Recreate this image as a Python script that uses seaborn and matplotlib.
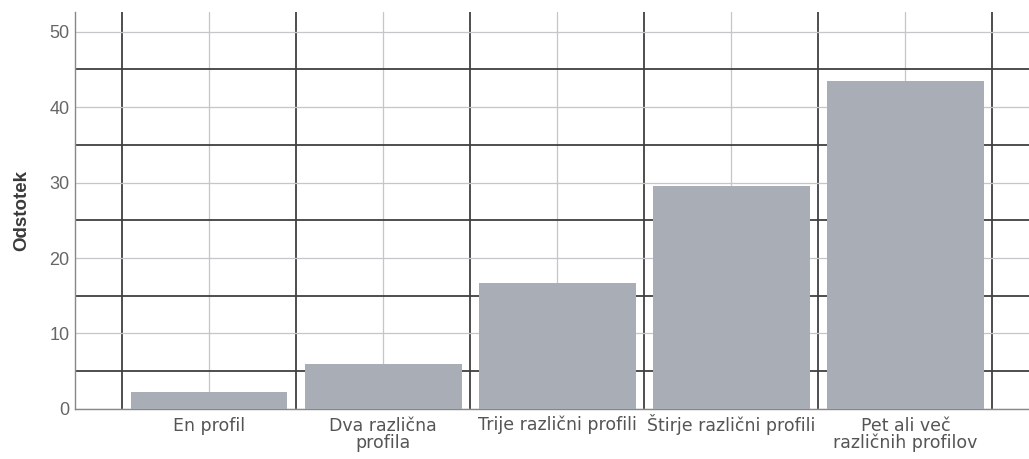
import matplotlib
matplotlib.use("Agg")
import matplotlib.pyplot as plt
import seaborn as sns
import pandas as pd
import numpy as np
from matplotlib.ticker import FixedLocator

categories = ["En profil", "Dva različna\nprofila", "Trije različni profili",
              "Štirje različni profili", "Pet ali več\nrazličnih profilov"]
values = [2.2, 5.9, 16.7, 29.5, 43.4]
y_ticks = [0, 10, 20, 30, 40, 50]

sns.set_theme(style="white")
plt.rcParams['font.family'] = ['Liberation Sans', 'DejaVu Sans']

df = pd.DataFrame({"kategorija": categories, "odstotek": values})

fig = plt.figure(figsize=(10.29, 4.59), dpi=100)
ax = fig.add_axes([0.073, 0.109, 0.927, 0.865])

sns.barplot(data=df, x="kategorija", y="odstotek", color="#a9adb6",
            saturation=1, width=0.9, ax=ax, zorder=3, edgecolor="none")

ax.set_xlim(-0.77, 4.71)
ax.set_ylim(0, 52.6)
ax.set_yticks(y_ticks)
ax.yaxis.set_minor_locator(FixedLocator([5, 15, 25, 35, 45]))
ax.xaxis.set_minor_locator(FixedLocator([-0.5, 0.5, 1.5, 2.5, 3.5, 4.5]))

ax.grid(which="major", axis="both", color="#c4c6ca", linewidth=0.9, zorder=0)
ax.grid(which="minor", axis="both", color="#404040", linewidth=1.3, zorder=1)
ax.set_axisbelow(True)

for s in ["top", "right"]:
    ax.spines[s].set_visible(False)
for s in ["left", "bottom"]:
    ax.spines[s].set_color("#888888")
    ax.spines[s].set_linewidth(1.0)

ax.tick_params(axis="y", which="major", labelsize=13, labelcolor="#666666",
               length=0, pad=4)
ax.tick_params(axis="x", which="major", length=0, labelbottom=False)
ax.tick_params(which="minor", length=0)

# category labels, top-aligned under each bar (accents would push single lines down)
for i, lab in enumerate(categories):
    if "\n" in lab:
        extra = 0.0
    elif lab.startswith("Š"):
        extra = 2.5
    elif "č" in lab:
        extra = 1.2
    else:
        extra = 0.0
    ax.annotate(lab, xy=(i, 0), xycoords=("data", "axes fraction"),
                xytext=(0, -6 + extra), textcoords="offset points",
                ha="center", va="top", fontsize=12.5, color="#555555",
                family=["DejaVu Sans"], linespacing=0.9)

ax.set_xlabel("")
ax.set_ylabel("Odstotek", fontsize=13.5, fontweight="bold", color="#3a3a3a", labelpad=14)

fig.savefig("out.png", dpi=100)
